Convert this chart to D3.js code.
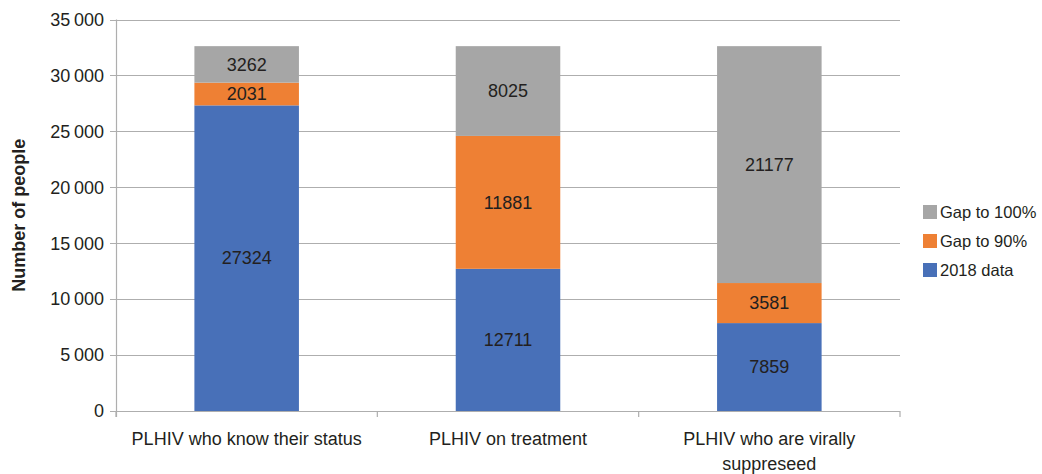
<!DOCTYPE html>
<html>
<head>
<meta charset="utf-8">
<script src="https://cdn.jsdelivr.net/npm/d3@7"></script>
<style>
  body { margin: 0; background: #fff; }
  text { font-family: "Liberation Sans Narrow", "Arial Narrow", "Liberation Sans", sans-serif; fill: #231f20; }
</style>
</head>
<body>
<svg width="1042" height="474"></svg>
<script>
// chart data
var categories = ['PLHIV who know their status', 'PLHIV on treatment', 'PLHIV who are virally suppreseed'];
var seriesNames = ['2018 data', 'Gap to 90%', 'Gap to 100%'];
var data2018 = [27324, 12711, 7859];
var gap90 = [2031, 11881, 3581];
var gap100 = [3262, 8025, 21177];
var yTicks = [0, 5000, 10000, 15000, 20000, 25000, 30000, 35000];

var colors = ['#4870b8', '#ee8034', '#a6a6a6'];

var svg = d3.select('svg');
var plot = {l: 116, r: 900, t: 19.5, b: 411};

var rows = categories.map(function(c, i) {
    return {cat: c, '2018 data': data2018[i], 'Gap to 90%': gap90[i], 'Gap to 100%': gap100[i]};
});
var stacked = d3.stack().keys(seriesNames)(rows);

var x = d3.scaleBand().domain(categories).range([plot.l, plot.r]).paddingInner(0.6).paddingOuter(0.3);
var y = d3.scaleLinear().domain([0, 35000]).range([plot.b, plot.t]);

// gridlines
svg.append('g').selectAll('line').data(yTicks).enter().append('line')
    .attr('x1', plot.l - 6).attr('x2', plot.r)
    .attr('y1', function(d) { return Math.round(y(d)) + 0.5; })
    .attr('y2', function(d) { return Math.round(y(d)) + 0.5; })
    .attr('stroke', '#aeaeae').attr('stroke-width', 1.2);

// y tick labels, thin space as thousands separator
var fmt = function(d) { return d3.format(',')(d).replace(',', '\u2009'); };
svg.append('g').selectAll('text').data(yTicks).enter().append('text')
    .attr('x', plot.l - 12)
    .attr('y', function(d) { return y(d); })
    .attr('dy', '0.35em')
    .attr('text-anchor', 'end')
    .style('font-size', '18px')
    .text(fmt);

// bars
var layers = svg.append('g').selectAll('g').data(stacked).enter().append('g')
    .attr('fill', function(d, i) { return colors[i]; });
layers.selectAll('rect').data(function(d) { return d; }).enter().append('rect')
    .attr('x', function(d) { return x(d.data.cat); })
    .attr('width', x.bandwidth())
    .attr('y', function(d) { return y(d[1]); })
    .attr('height', function(d) { return y(d[0]) - y(d[1]); });

// segment labels
layers.selectAll('text').data(function(d) { return d; }).enter().append('text')
    .attr('x', function(d) { return x(d.data.cat) + x.bandwidth() / 2; })
    .attr('y', function(d) { return (y(d[0]) + y(d[1])) / 2; })
    .attr('dy', '0.35em')
    .attr('text-anchor', 'middle')
    .style('font-size', '18px')
    .text(function(d) { return d[1] - d[0]; });

// x axis
var xAxis = svg.append('g');
xAxis.append('line')
    .attr('x1', plot.l).attr('x2', plot.r)
    .attr('y1', plot.b + 0.5).attr('y2', plot.b + 0.5)
    .attr('stroke', '#aeaeae').attr('stroke-width', 1.2);
var step = (plot.r - plot.l) / categories.length;
xAxis.selectAll('.tick').data(d3.range(categories.length + 1)).enter().append('line')
    .attr('x1', function(i) { return plot.l + i * step; })
    .attr('x2', function(i) { return plot.l + i * step; })
    .attr('y1', plot.b).attr('y2', plot.b + 6)
    .attr('stroke', '#aeaeae').attr('stroke-width', 1.2);
svg.append('line')
    .attr('x1', plot.l + 0.5).attr('x2', plot.l + 0.5)
    .attr('y1', plot.t).attr('y2', plot.b + 6)
    .attr('stroke', '#aeaeae').attr('stroke-width', 1.2);

var catLines = [['PLHIV who know their status'], ['PLHIV on treatment'], ['PLHIV who are virally', 'suppreseed']];
xAxis.selectAll('text').data(categories).enter().append('text')
    .attr('x', function(d) { return x(d) + x.bandwidth() / 2; })
    .attr('y', 445)
    .attr('text-anchor', 'middle')
    .style('font-size', '18px')
    .each(function(d, i) {
        var t = d3.select(this);
        catLines[i].forEach(function(line, j) {
            t.append('tspan').attr('x', x(d) + x.bandwidth() / 2).attr('dy', j === 0 ? 0 : 25).text(line);
        });
    });

// y axis title
svg.append('text')
    .attr('transform', 'translate(25,' + ((plot.t + plot.b) / 2) + ') rotate(-90)')
    .attr('text-anchor', 'middle')
    .style('font-size', '18px')
    .style('font-weight', 'bold')
    .text('Number of people');

// legend (top entry is last series)
var legendItems = seriesNames.slice().reverse();
var legend = svg.append('g').selectAll('g').data(legendItems).enter().append('g')
    .attr('transform', function(d, i) { return 'translate(923,' + (212 + i * 29) + ')'; });
legend.append('rect')
    .attr('x', 0).attr('y', -7).attr('width', 14).attr('height', 14)
    .attr('fill', function(d) { return colors[seriesNames.indexOf(d)]; });
legend.append('text')
    .attr('x', 17).attr('y', 0).attr('dy', '0.35em')
    .style('font-size', '16.5px')
    .text(function(d) { return d; });
</script>
</body>
</html>
